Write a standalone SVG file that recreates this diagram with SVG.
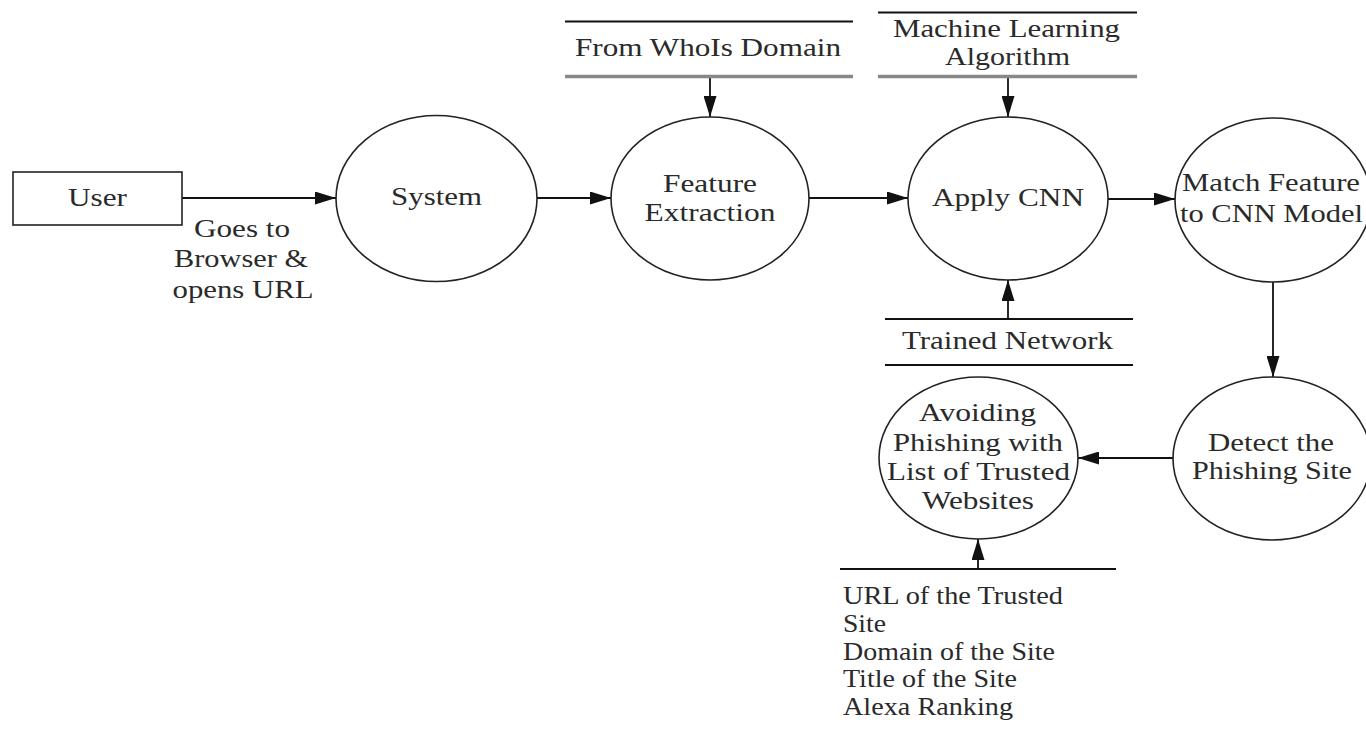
<svg xmlns="http://www.w3.org/2000/svg" width="1366" height="734" viewBox="0 0 1366 734">
<style>
.t{font-family:"Liberation Serif","Times New Roman",serif;font-size:25px;fill:#2a2a2a;text-anchor:middle}
.l{text-anchor:start}
.shape{fill:#fff;stroke:#222;stroke-width:1.6}
.bar{stroke:#111;stroke-width:2}
.barg{stroke:#888;stroke-width:3.5}
.conn{stroke:#111;stroke-width:1.8;fill:none;marker-end:url(#ah)}
</style>
<defs>
<marker id="ah" markerUnits="userSpaceOnUse" markerWidth="21" markerHeight="13" refX="21" refY="6.5" orient="auto">
<path d="M0,0 L21,6.5 L0,13 z" fill="#111"/>
</marker>
</defs>
<rect width="1366" height="734" fill="#fff"/>

<g id="connectors">
<line class="conn" x1="182" y1="198" x2="336" y2="198"/>
<line class="conn" x1="537" y1="198" x2="611" y2="198"/>
<line class="conn" x1="809" y1="198" x2="908" y2="198"/>
<line class="conn" x1="1108" y1="199" x2="1175" y2="199"/>
<line class="conn" x1="710" y1="77" x2="710" y2="117"/>
<line class="conn" x1="1008" y1="77" x2="1008" y2="117"/>
<line class="conn" x1="1008" y1="319" x2="1008" y2="280"/>
<line class="conn" x1="1273" y1="282" x2="1273" y2="377"/>
<line class="conn" x1="1173" y1="458" x2="1078" y2="458"/>
<line class="conn" x1="978" y1="569" x2="978" y2="539"/>
</g>

<g id="user">
<rect class="shape" x="13" y="172" width="169" height="53" stroke-width="2.2"/>
<text class="t" x="97.5" y="206" textLength="59" lengthAdjust="spacingAndGlyphs">User</text>
</g>

<g id="label-goes">
<text class="t" x="242" y="237" textLength="96" lengthAdjust="spacingAndGlyphs">Goes to</text>
<text class="t" x="241" y="267" textLength="134" lengthAdjust="spacingAndGlyphs">Browser &amp;</text>
<text class="t" x="243" y="298" textLength="141" lengthAdjust="spacingAndGlyphs">opens URL</text>
</g>

<g id="system">
<ellipse class="shape" cx="436.5" cy="198.5" rx="100.5" ry="83"/>
<text class="t" x="436.5" y="205" textLength="91" lengthAdjust="spacingAndGlyphs">System</text>
</g>

<g id="whois">
<line class="bar" x1="565" y1="21.5" x2="853" y2="21.5"/>
<line class="barg" x1="565" y1="76.5" x2="853" y2="76.5"/>
<text class="t" x="708" y="56" textLength="266" lengthAdjust="spacingAndGlyphs">From WhoIs Domain</text>
</g>

<g id="feature-extraction">
<ellipse class="shape" cx="710" cy="198.5" rx="99" ry="81.5"/>
<text class="t" x="710" y="192" textLength="94" lengthAdjust="spacingAndGlyphs">Feature</text>
<text class="t" x="710" y="221" textLength="131" lengthAdjust="spacingAndGlyphs">Extraction</text>
</g>

<g id="ml-algorithm">
<line class="bar" x1="878" y1="12.5" x2="1137" y2="12.5"/>
<line class="barg" x1="878" y1="76.5" x2="1137" y2="76.5"/>
<text class="t" x="1006.5" y="37" textLength="227" lengthAdjust="spacingAndGlyphs">Machine Learning</text>
<text class="t" x="1007.5" y="65" textLength="125" lengthAdjust="spacingAndGlyphs">Algorithm</text>
</g>

<g id="apply-cnn">
<ellipse class="shape" cx="1008" cy="198.5" rx="100" ry="81.5"/>
<text class="t" x="1008" y="206" textLength="152" lengthAdjust="spacingAndGlyphs">Apply CNN</text>
</g>

<g id="match-feature">
<ellipse class="shape" cx="1273" cy="200" rx="98" ry="82"/>
<text class="t" x="1271" y="191" textLength="178" lengthAdjust="spacingAndGlyphs">Match Feature</text>
<text class="t" x="1271.5" y="222" textLength="183" lengthAdjust="spacingAndGlyphs">to CNN Model</text>
</g>

<g id="trained-network">
<line class="bar" x1="885" y1="319" x2="1133" y2="319" stroke-width="1.6"/>
<line class="bar" x1="885" y1="365" x2="1133" y2="365" stroke-width="1.6"/>
<text class="t" x="1007.5" y="349" textLength="211" lengthAdjust="spacingAndGlyphs">Trained Network</text>
</g>

<g id="detect">
<ellipse class="shape" cx="1272" cy="458.5" rx="99" ry="81.5"/>
<text class="t" x="1271" y="451" textLength="126" lengthAdjust="spacingAndGlyphs">Detect the</text>
<text class="t" x="1272" y="479" textLength="160" lengthAdjust="spacingAndGlyphs">Phishing Site</text>
</g>

<g id="avoiding">
<ellipse class="shape" cx="978.5" cy="458" rx="99.5" ry="81"/>
<text class="t" x="977.5" y="421" textLength="117" lengthAdjust="spacingAndGlyphs">Avoiding</text>
<text class="t" x="978" y="451" textLength="170" lengthAdjust="spacingAndGlyphs">Phishing with</text>
<text class="t" x="978.5" y="480" textLength="183" lengthAdjust="spacingAndGlyphs">List of Trusted</text>
<text class="t" x="978" y="509" textLength="112" lengthAdjust="spacingAndGlyphs">Websites</text>
</g>

<g id="trusted-store">
<line class="bar" x1="840" y1="569" x2="1116" y2="569"/>
<text class="t l" x="843" y="604" textLength="220" lengthAdjust="spacingAndGlyphs">URL of the Trusted</text>
<text class="t l" x="843" y="632" textLength="43" lengthAdjust="spacingAndGlyphs">Site</text>
<text class="t l" x="843" y="660" textLength="212" lengthAdjust="spacingAndGlyphs">Domain of the Site</text>
<text class="t l" x="843" y="687" textLength="174" lengthAdjust="spacingAndGlyphs">Title of the Site</text>
<text class="t l" x="843" y="715" textLength="170" lengthAdjust="spacingAndGlyphs">Alexa Ranking</text>
</g>
</svg>
